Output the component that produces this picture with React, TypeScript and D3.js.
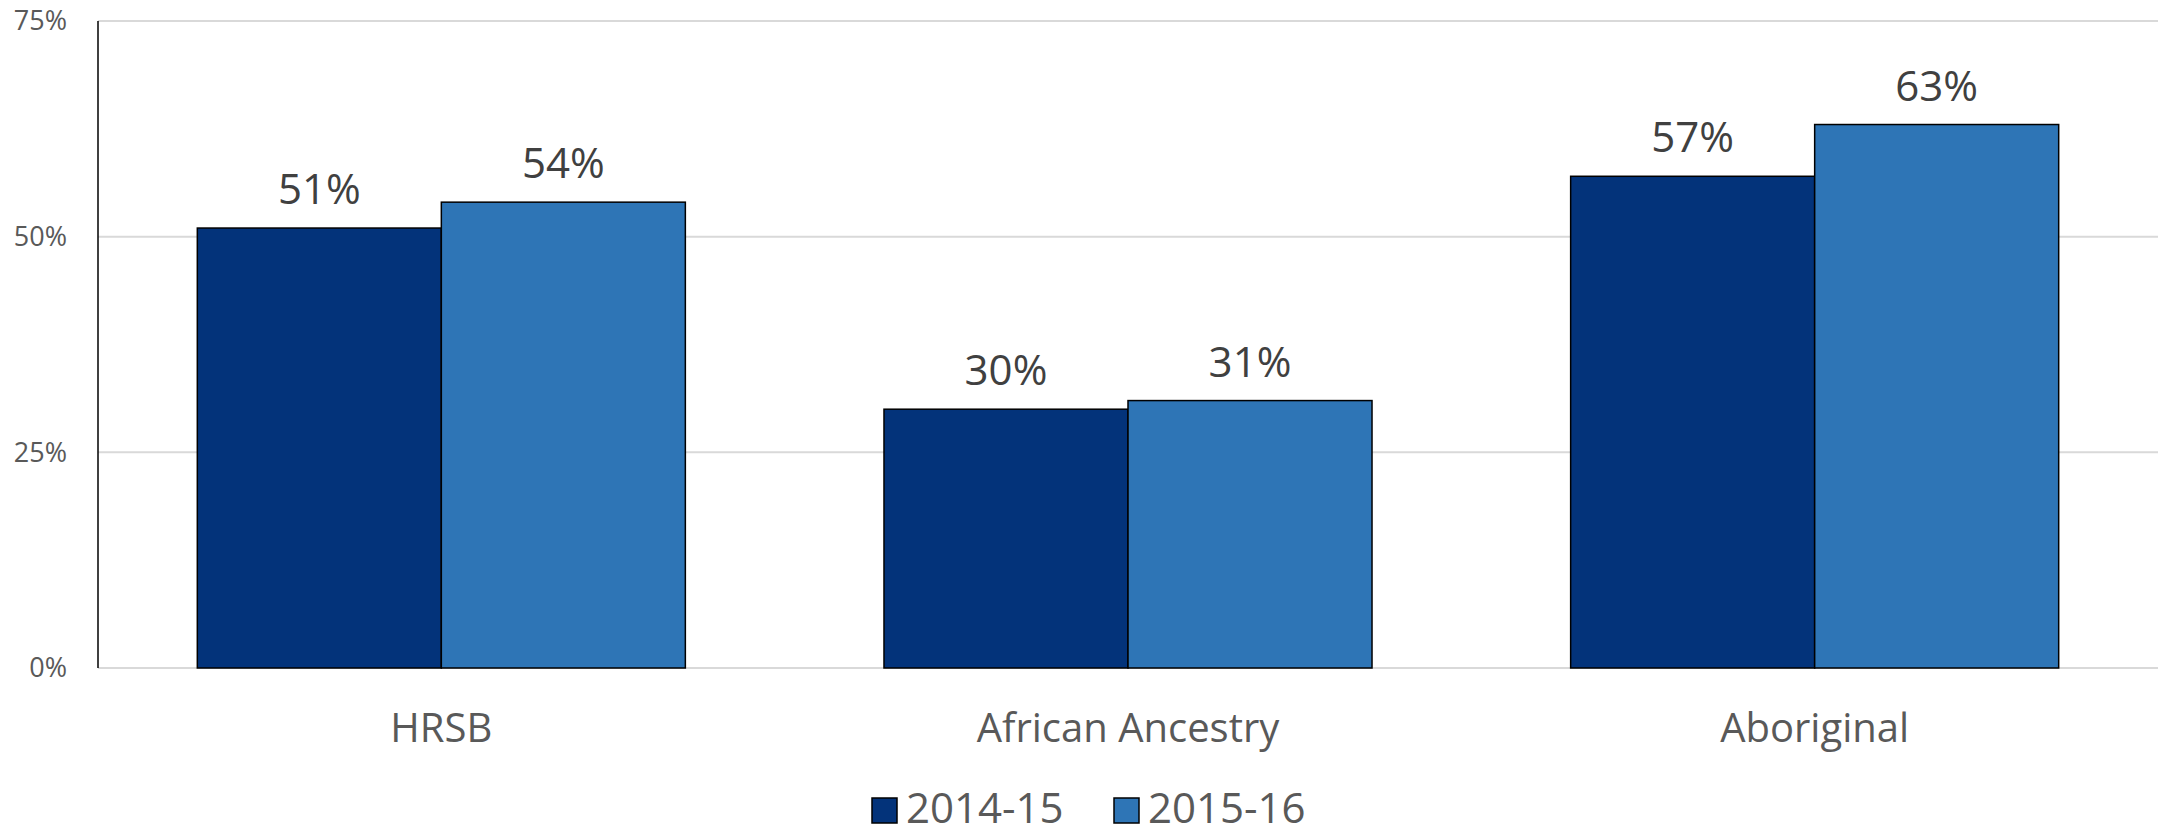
import React from 'react';
import * as d3 from 'd3';

const categories = ['HRSB', 'African Ancestry', 'Aboriginal'];
const seriesNames = ['2014-15', '2015-16'];
const values2014 = [51, 30, 57];
const values2015 = [54, 31, 63];
const yTicks = [0, 25, 50, 75];
const yTickLabels = ['0%', '25%', '50%', '75%'];
const colors = ['#03337a', '#2e75b6'];

const W = 2160;
const H = 830;
const margin = { top: 21, right: 2, bottom: 162, left: 98 };
const FONT = '"Open Sans", "Segoe UI", sans-serif';

const App = () => {
  const innerH = H - margin.top - margin.bottom;
  const seriesValues = [values2014, values2015];

  // category bands
  const x0 = d3
    .scaleBand<string>()
    .domain(categories)
    .range([margin.left, W - margin.right])
    .padding(0);

  // bars within a category
  const x1 = d3
    .scaleBand<string>()
    .domain(seriesNames)
    .range([0, x0.bandwidth()])
    .paddingInner(0)
    .paddingOuter(0.407);

  const y = d3
    .scaleLinear()
    .domain([0, 75])
    .range([margin.top + innerH, margin.top]);

  // legend layout
  const swatch = 25;
  const legendItemW = [206, 206];
  const legendX = 872;
  const legendY = 798;

  return (
    <svg
      width={W}
      height={H}
      style={{ position: 'absolute', left: 0, top: 0, background: '#fff' }}
      fontFamily={FONT}
    >
      {/* gridlines */}
      {yTicks.map(t => (
        <line
          key={`g${t}`}
          x1={margin.left}
          x2={W - margin.right}
          y1={y(t)}
          y2={y(t)}
          stroke="#d9d9d9"
          strokeWidth={2}
        />
      ))}

      {/* y tick labels */}
      {yTicks.map((t, i) => (
        <text
          key={`t${t}`}
          x={67}
          y={y(t)}
          dy="0.35em"
          textAnchor="end"
          fontSize={27}
          fill="#595959"
        >
          {yTickLabels[i]}
        </text>
      ))}

      {/* bars */}
      {categories.map((c, ci) => (
        <g key={c} transform={`translate(${x0(c)},0)`}>
          {seriesNames.map((s, si) => {
            const v = seriesValues[si][ci];
            const bx = x1(s) as number;
            return (
              <g key={s}>
                <rect
                  x={bx}
                  y={y(v)}
                  width={x1.bandwidth()}
                  height={y(0) - y(v)}
                  fill={colors[si]}
                  stroke="#000"
                  strokeWidth={1.5}
                />
                <text
                  x={bx + x1.bandwidth() / 2}
                  y={y(v) - 24}
                  textAnchor="middle"
                  fontSize={42}
                  fill="#404040"
                >
                  {`${v}%`}
                </text>
              </g>
            );
          })}
        </g>
      ))}

      {/* y axis line */}
      <line
        x1={margin.left}
        x2={margin.left}
        y1={y(75)}
        y2={y(0)}
        stroke="#000"
        strokeWidth={1.5}
      />

      {/* category labels */}
      {categories.map(c => (
        <text
          key={`c${c}`}
          x={(x0(c) as number) + x0.bandwidth() / 2}
          y={742}
          textAnchor="middle"
          fontSize={40}
          fill="#595959"
        >
          {c}
        </text>
      ))}

      {/* legend */}
      {seriesNames.map((s, i) => {
        const lx = legendX + d3.sum(legendItemW.slice(0, i)) + i * 36;
        return (
          <g key={`l${s}`} transform={`translate(${lx},${legendY})`}>
            <rect
              width={swatch}
              height={swatch}
              fill={colors[i]}
              stroke="#000"
              strokeWidth={1.5}
            />
            <text x={swatch + 9} y={25} fontSize={42} fill="#595959">
              {s}
            </text>
          </g>
        );
      })}
    </svg>
  );
};

export default App;
